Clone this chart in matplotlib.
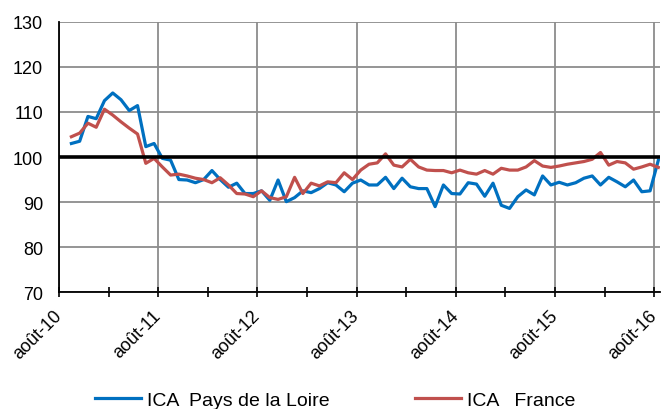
import numpy as np
import matplotlib.pyplot as plt

plt.rcParams['font.family'] = ['Liberation Sans', 'DejaVu Sans']

# Mois : sept-10 (1) ... août-16 (72), points placés au milieu du mois
mois = np.arange(1, 73) + 0.5

ica_pdl = [103.0, 103.5, 109.0, 108.5, 112.5, 114.2, 112.7, 110.3, 111.4, 102.3, 103.0, 99.7,
           99.3, 95.0, 94.9, 94.3, 95.0, 97.0, 95.0, 93.3, 94.2, 91.9, 91.9, 92.5,
           90.4, 94.9, 90.1, 91.0, 92.5, 92.1, 93.0, 94.3, 93.8, 92.3, 94.2, 94.9,
           93.8, 93.8, 95.5, 93.0, 95.3, 93.4, 93.0, 93.0, 89.0, 93.8, 91.9, 91.8,
           94.3, 94.0, 91.3, 94.2, 89.3, 88.6, 91.2, 92.7, 91.6, 95.8, 93.8, 94.4,
           93.8, 94.3, 95.3, 95.8, 93.8, 95.5, 94.5, 93.4, 94.9, 92.3, 92.5, 99.3]

ica_france = [104.5, 105.3, 107.5, 106.6, 110.6, 109.3, 107.8, 106.4, 105.1, 98.6, 99.7, 97.8,
              96.0, 96.2, 95.8, 95.3, 95.0, 94.3, 95.4, 93.8, 91.9, 91.8, 91.2, 92.5,
              91.0, 90.6, 91.2, 95.5, 91.9, 94.2, 93.6, 94.5, 94.3, 96.5, 95.0, 97.1,
              98.4, 98.7, 100.7, 98.2, 97.8, 99.5, 97.8, 97.1, 97.0, 97.0, 96.5, 97.1,
              96.5, 96.2, 97.0, 96.2, 97.5, 97.1, 97.1, 97.8, 99.2, 98.0, 97.7, 98.0,
              98.4, 98.7, 99.0, 99.5, 101.0, 98.2, 99.0, 98.7, 97.3, 97.8, 98.4, 97.7]

etiquettes = ['août-10', 'août-11', 'août-12', 'août-13', 'août-14', 'août-15', 'août-16']

fig = plt.figure(figsize=(6.62, 4.10), dpi=100)
ax = fig.add_axes([59 / 662, 0.2846, 601 / 662, 0.66])

ax.plot(mois, ica_pdl, color='#0070C0', lw=2.3, label='ICA  Pays de la Loire')
ax.plot(mois, ica_france, color='#C0504D', lw=2.3, label='ICA   France')
ax.axhline(100, color='black', lw=2.6)

ax.set_xlim(0, 72.7)
ax.set_ylim(70, 130)
ax.set_yticks(range(70, 131, 10))
ax.set_xticks(range(0, 73, 12))
ax.set_xticks(range(6, 73, 12), minor=True)
ax.set_xticklabels(etiquettes)

ax.grid(which='major', color='#8c8c8c', lw=1.3)
ax.set_axisbelow(True)
for s in ['top', 'right']:
    ax.spines[s].set_visible(False)
for s in ['left', 'bottom']:
    ax.spines[s].set_linewidth(1.3)

ax.tick_params(axis='y', length=0, pad=11.5, labelsize=13)
ax.tick_params(axis='x', which='both', direction='inout', length=7, width=1.2)
ax.tick_params(axis='x', labelsize=13, pad=11)

for lab in ax.get_xticklabels():
    lab.set_rotation(45)
    lab.set_rotation_mode('anchor')
    lab.set_ha('right')
    lab.set_va('center')

fig.legend(loc='center', bbox_to_anchor=(0.506, 0.022), ncol=2, frameon=False,
           fontsize=14, handlelength=2.37, handletextpad=0.31, columnspacing=4.4)

fig.savefig('out.png', dpi=100)
